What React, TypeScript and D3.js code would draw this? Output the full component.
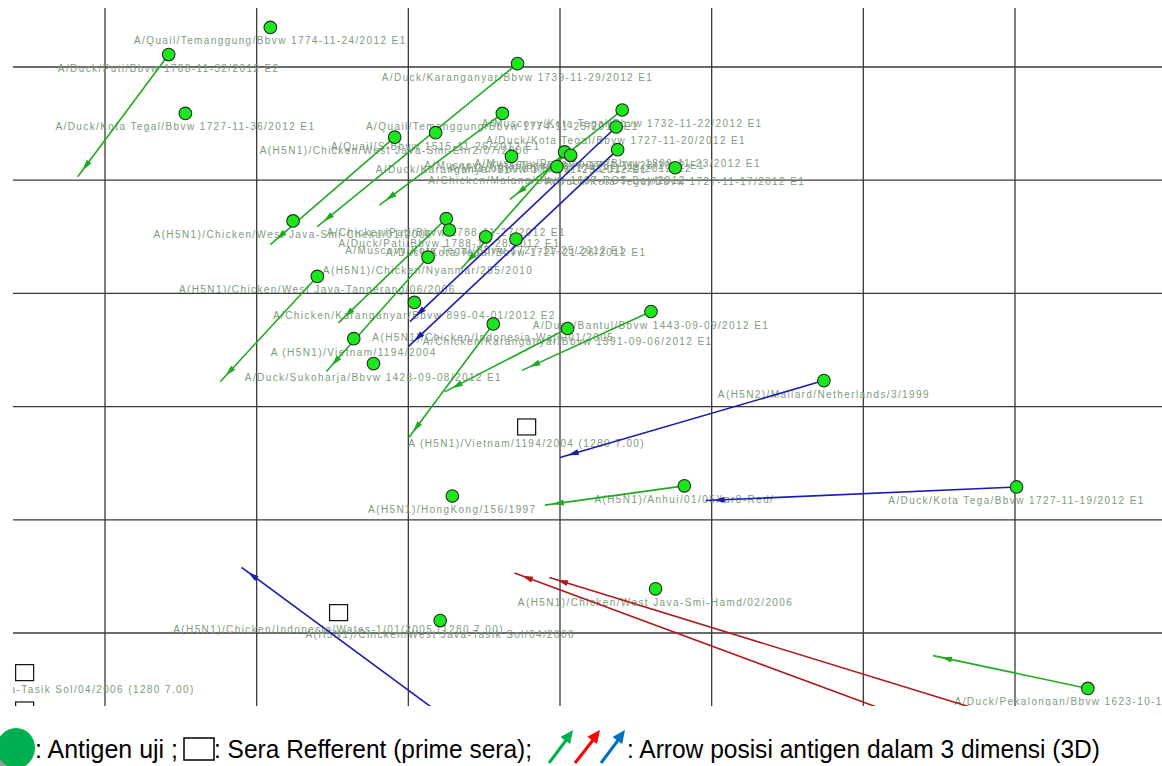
import React from "react";
import * as d3 from "d3";

// ---------- DATA (antigenic map units: one grid cell = 1 unit) ----------
const gridXValues = [0, 1, 2, 3, 4, 5, 6];
const gridYValues = [0, 1, 2, 3, 4, 5];

const antigenNames = [
  "A/Quail/Temanggung/Bbvw 1774-11-24/2012 E1",
  "A/Duck/Puti/Bbvw 1788-11-32/2012 E2",
  "A/Duck/Kota Tegal/Bbvw 1727-11-36/2012 E1",
  "A/Duck/Karanganyar/Bbvw 1739-11-29/2012 E1",
  "A/Quail/Temanggung/Bbvw 1774-11-25/2012 E1",
  "A(H5N1)/Chicken/West Java-Smi-Ehr2/07/2006",
  "A/Quail/S-Bbvw 1515-11-26/2012 E1",
  "A/Muscovy/Kota Tegal/Bbvw 1732-11-22/2012 E1",
  "A/Duck/Kota Tegal/Bbvw 1727-11-20/2012 E1",
  "A/Duck/Karanganyar/Bbvw 1742-11-29/2012 E1",
  "A/Muscovy/Kota Tegal/Bbvw 1732-11-23/2012 E1",
  "A/Muscovy/Pati/Bbvw 1741-11-28/2012 E2",
  "A/Chicken/Malang/Bbvw 1687-RO5-Bey/2012",
  "A/Muscovy/Pekalongan/Bbvw 1809-11-23/2012 E1",
  "A/Duck/Kota Tegal/Bbvw 1727-11-17/2012 E1",
  "A(H5N1)/Chicken/West Java-Smi-Cheku/01/2006",
  "A/Chicken/Pati/Bbvw 1788-11-27/2012 E1",
  "A/Duck/Pati/Bbvw 1788-11-28/2012 E1",
  "A/Muscovy/Kota Tegal/Bbvw 1727-11-25/2012 E1",
  "A/Duck/Kota Tegal/Bbvw 1727-21-26/2012 E1",
  "A(H5N1)/Chicken/Nyanmar/295/2010",
  "A(H5N1)/Chicken/West Java-Tangerang/06/2006",
  "A/Chicken/Karanganyar/Bbvw 899-04-01/2012 E2",
  "A(H5N1)/Chicken/Indonesia-Wajo/01/2005",
  "A/Chicken/Karanganyar/Bbvw 1391-09-06/2012 E1",
  "A/Duck/Bantul/Bbvw 1443-09-09/2012 E1",
  "A (H5N1)/Vietnam/1194/2004",
  "A/Duck/Sukoharja/Bbvw 1428-09-08/2012 E1",
  "A(H5N2)/Mallard/Netherlands/3/1999",
  "A(H5N1)/HongKong/156/1997",
  "A(H5N1)/Anhui/01/05Xar8-Red/",
  "A/Duck/Kota Tega/Bbvw 1727-11-19/2012 E1",
  "A(H5N1)/Chicken/West Java-Smi-Hamd/02/2006",
  "A(H5N1)/Chicken/West Java-Tasik Sol/04/2006",
  "A/Duck/Pekalongan/Bbvw 1623-10-18/2012 E1",
];
const antigenX = [
  1.09, 0.42, 0.53, 2.72, 2.62, 1.91, 2.18, 3.41, 3.37, 2.68, 3.03, 3.07, 2.98, 3.38, 3.76,
  1.24, 2.25, 2.27, 2.51, 2.71, 2.13, 1.4, 2.04, 2.56, 3.05, 3.6, 1.64, 1.77, 4.74, 2.29,
  3.82, 6.01, 3.63, 2.21, 6.48,
];
const antigenY = [
  -0.35, -0.11, 0.41, -0.03, 0.41, 0.62, 0.58, 0.38, 0.53, 0.79, 0.75, 0.78, 0.88, 0.73, 0.89,
  1.36, 1.34, 1.44, 1.5, 1.52, 1.68, 1.85, 2.08, 2.27, 2.31, 2.16, 2.4, 2.62, 2.77, 3.79,
  3.7, 3.71, 4.61, 4.89, 5.49,
];

const seraNames = [
  "A (H5N1)/Vietnam/1194/2004 (1280 7.00)",
  "A(H5N1)/Chicken/Indonesia/Wates-1/01/2005 (1280 7.00)",
  "A(H5N1)/Chicken/West Java-Tasik Sol/04/2006 (1280 7.00)",
  "",
];
const seraX = [2.78, 1.54, -0.53, -0.53];
const seraY = [3.18, 4.82, 5.35, 5.68];

// arrows: 2D position -> 3D position
const arrowType = ["g", "g", "g", "g", "g", "b", "b", "g", "g", "g", "g", "g", "g", "g", "b", "g", "b", "g", "b", "r", "r"];
const arrowFromX = [0.42, 2.72, 2.62, 1.91, 3.41, 3.37, 3.38, 3.03, 2.25, 2.13, 1.4, 2.56, 3.05, 3.6, 4.74, 3.82, 6.01, 6.48, 2.41, 5.18, 5.84];
const arrowFromY = [-0.11, -0.03, 0.41, 0.62, 0.38, 0.53, 0.73, 0.75, 1.34, 1.68, 1.85, 2.27, 2.31, 2.16, 2.77, 3.7, 3.71, 5.49, 5.91, 5.7, 5.71];
const arrowToX = [-0.18, 1.4, 1.81, 1.09, 2.67, 2.01, 2.0, 2.35, 1.54, 1.46, 0.76, 2.0, 2.24, 2.75, 3.0, 2.9, 3.96, 5.46, 0.9, 2.7, 2.93];
const arrowToY = [0.97, 1.41, 1.22, 1.57, 1.17, 2.25, 2.47, 1.78, 2.26, 2.69, 2.78, 3.28, 2.87, 2.68, 3.45, 3.87, 3.83, 5.2, 4.42, 4.47, 4.51];

const legendItems = [": Antigen uji ;", ": Sera Refferent  (prime sera);", ": Arrow  posisi antigen dalam 3 dimensi (3D)"];

// ---------- STYLE ----------
const W = 1162;
const H = 766;
const plot = { left: 13, top: 8, right: 1162, bottom: 706 };
const arrowColors: Record<string, string> = { g: "#21aa21", b: "#1c1cae", r: "#b01a1a" };
const labelColor = "#809a80";
const gridColor = "#3a3a3a";

function arrowHead(x1: number, y1: number, x2: number, y2: number, back: number, len: number, hw: number) {
  const dx = x2 - x1, dy = y2 - y1;
  const L = Math.hypot(dx, dy) || 1;
  const ux = dx / L, uy = dy / L;
  const tx = x2 - ux * back, ty = y2 - uy * back;
  const bx = tx - ux * len, by = ty - uy * len;
  const nx = -uy, ny = ux;
  return `${tx},${ty} ${bx + nx * hw},${by + ny * hw} ${bx - nx * hw},${by - ny * hw}`;
}

export default function App() {
  const x = d3.scaleLinear().domain([0, 6]).range([105, 1015]);
  const y = d3.scaleLinear().domain([0, 5]).range([67, 633]);

  const labelFont = { fontFamily: "'Liberation Sans', Arial, sans-serif", fontSize: 10, letterSpacing: 1.4 };
  const legendFont = "'Liberation Sans', Arial, sans-serif";

  return (
    <svg
      width={W}
      height={H}
      style={{ position: "absolute", left: 0, top: 0, display: "block", background: "#fff" }}
    >
      <defs>
        <clipPath id="plotClip">
          <rect x={plot.left} y={plot.top} width={plot.right - plot.left} height={plot.bottom - plot.top} />
        </clipPath>
      </defs>
      <rect x={0} y={0} width={W} height={H} fill="#fff" />
      <g clipPath="url(#plotClip)">
        {gridXValues.map((v) => (
          <line key={"gx" + v} x1={x(v)} x2={x(v)} y1={plot.top} y2={plot.bottom} stroke={gridColor} strokeWidth={1.3} />
        ))}
        {gridYValues.map((v) => (
          <line key={"gy" + v} x1={plot.left} x2={plot.right} y1={y(v)} y2={y(v)} stroke={gridColor} strokeWidth={1.3} />
        ))}
        {/* labels */}
        {antigenNames.map((n, i) => (
          <text key={"al" + i} x={x(antigenX[i])} y={y(antigenY[i]) + 17} textAnchor="middle" fill={labelColor} {...labelFont}>
            {n}
          </text>
        ))}
        {seraNames.map((n, i) => (
          <text key={"sl" + i} x={x(seraX[i])} y={y(seraY[i]) + 20} textAnchor="middle" fill={labelColor} {...labelFont}>
            {n}
          </text>
        ))}
        {/* arrows */}
        {arrowType.map((t, i) => {
          const x1 = x(arrowFromX[i]), y1 = y(arrowFromY[i]);
          const x2 = x(arrowToX[i]), y2 = y(arrowToY[i]);
          return (
            <g key={"ar" + i}>
              <line x1={x1} y1={y1} x2={x2} y2={y2} stroke={arrowColors[t]} strokeWidth={1.6} />
              <polygon points={arrowHead(x1, y1, x2, y2, 8, 11, 3)} fill={arrowColors[t]} />
            </g>
          );
        })}
        {/* antigens */}
        {antigenNames.map((n, i) => (
          <circle key={"c" + i} cx={x(antigenX[i])} cy={y(antigenY[i])} r={6.3} fill="#1ee61e" stroke="#1e2e1e" strokeWidth={1.1} />
        ))}
        {/* sera */}
        {seraNames.map((n, i) => (
          <rect key={"s" + i} x={x(seraX[i]) - 9} y={y(seraY[i]) - 8} width={18} height={16} fill="#fff" stroke="#111" strokeWidth={1.2} />
        ))}
      </g>

      {/* legend */}
      <g>
        <ellipse cx={13} cy={751} rx={19} ry={20} fill="#9a9a9a" />
        <ellipse cx={16} cy={748} rx={19} ry={20} fill="#00b050" />
        <text x={35} y={758} fontFamily={legendFont} fontSize={26} textLength={143} lengthAdjust="spacingAndGlyphs" fill="#000">
          {legendItems[0]}
        </text>
        <rect x={184} y={738} width={30} height={22} fill="#fff" stroke="#000" strokeWidth={1.5} />
        <text x={214} y={758} fontFamily={legendFont} fontSize={26} textLength={318} lengthAdjust="spacingAndGlyphs" fill="#000">
          {legendItems[1]}
        </text>
        {[
          { c: "#00b050", x1: 549, x2: 573 },
          { c: "#ff0000", x1: 575, x2: 600 },
          { c: "#0070c0", x1: 601, x2: 625 },
        ].map((a, i) => (
          <g key={"la" + i}>
            <line x1={a.x1} y1={763} x2={a.x2 - 3} y2={735} stroke={a.c} strokeWidth={3} />
            <polygon points={arrowHead(a.x1, 763, a.x2, 730, 0, 13, 6)} fill={a.c} />
          </g>
        ))}
        <text x={627} y={758} fontFamily={legendFont} fontSize={26} textLength={473} lengthAdjust="spacingAndGlyphs" fill="#000">
          {legendItems[2]}
        </text>
      </g>
    </svg>
  );
}
